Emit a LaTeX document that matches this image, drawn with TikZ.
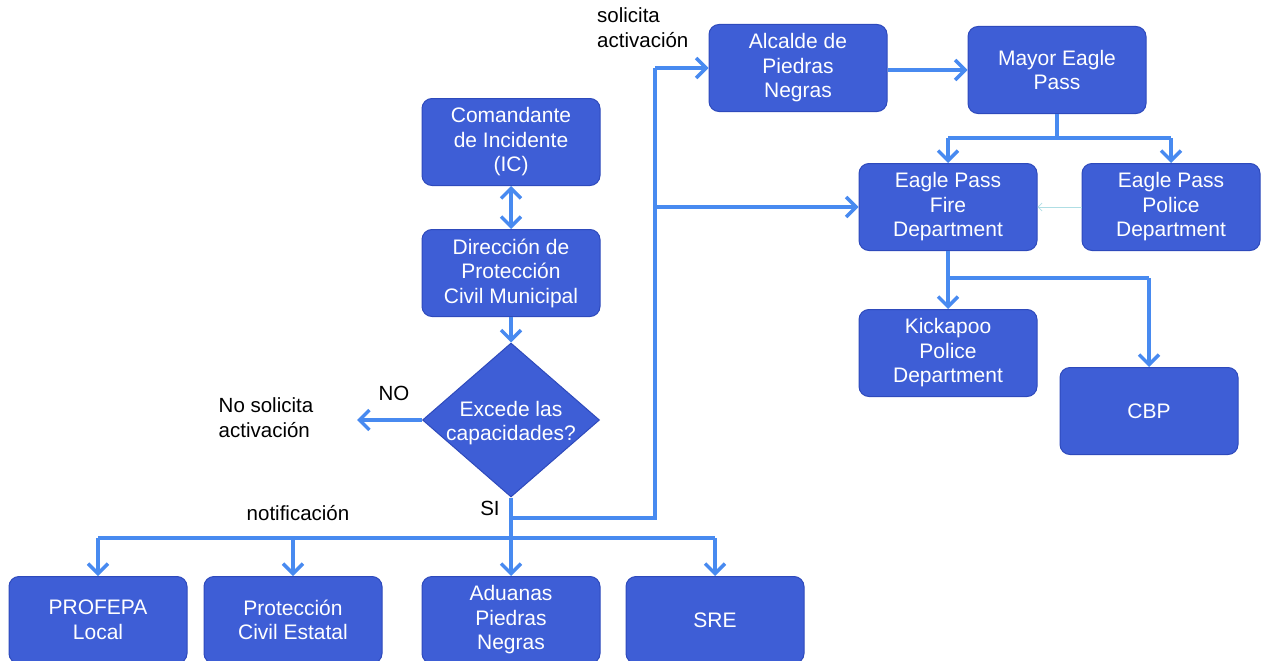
\documentclass[tikz,border=0pt]{standalone}
\usepackage{fontspec}
\setmainfont{Liberation Sans}
\usetikzlibrary{arrows.meta,shapes.geometric}
\definecolor{boxblue}{RGB}{62,94,214}
\definecolor{boxedge}{RGB}{46,74,188}
\definecolor{linkblue}{RGB}{72,138,240}
\definecolor{faintlink}{RGB}{175,222,228}

\begin{document}
\begin{tikzpicture}[x=1pt,y=-1pt,
  box/.style={draw=boxedge,fill=boxblue,line width=1pt,rounded corners=10pt,minimum width=178pt,minimum height=87pt,inner sep=2pt,text=white,align=center,font=\fontsize{21}{24.5}\selectfont},
  decision/.style={draw=boxedge,fill=boxblue,line width=1pt,diamond,minimum width=177pt,minimum height=154pt,inner sep=0pt},
  word/.style={text=white,align=center,font=\fontsize{21}{24.5}\selectfont},
  tag/.style={text=black,align=left,font=\fontsize{20.5}{25}\selectfont,inner sep=0pt},
  link/.style={draw=linkblue,line width=3.5pt},
  tip/.style={-{Straight Barb[length=10pt,width=20pt]}}]
  \useasboundingbox (0,0) rectangle (1261,661);
  \node[box] (cmd) at (511,142) {Comandante\\de Incidente\\(IC)};
  \node[box] (dir) at (511,273) {Dirección de\\Protección\\Civil Municipal};
  \node[decision] (dec) at (511,420) {};
  \node[word] (dectext) at (511,423) {Excede las\\capacidades?};
  \node[tag] (no) at (394,393) {NO};
  \node[tag] (nosol) at (266,418) {No solicita\\activación};
  \coordinate (noend) at (357,420);
  \node[tag] (si) at (490,508) {SI};
  \node[tag] (notif) at (298,513) {notificación};
  \node[tag,anchor=west] (solact) at (597,28) {solicita\\activación};
  \node[box] (profepa) at (98,620) {PROFEPA\\Local};
  \node[box] (pcestatal) at (293,620) {Protección\\Civil Estatal};
  \node[box] (aduanas) at (511,620) {Aduanas\\Piedras\\Negras};
  \node[box] (sre) at (715,620) {SRE};
  \node[box] (alcalde) at (798,68) {Alcalde de\\Piedras\\Negras};
  \node[box] (mayor) at (1057,70) {Mayor Eagle\\Pass};
  \node[box] (fire) at (948,207) {Eagle Pass\\Fire\\Department};
  \node[box] (police) at (1171,207) {Eagle Pass\\Police\\Department};
  \node[box] (kickapoo) at (948,353) {Kickapoo\\Police\\Department};
  \node[box] (cbp) at (1149,411) {CBP};
  \coordinate (bus) at (511,538);
  \coordinate (fork) at (511,518);
  \coordinate (riser) at (655,518);
  \coordinate (split) at (1057,138);
  \coordinate (branch) at (948,278);
  \draw[link,{Straight Barb[length=10pt,width=20pt]}-{Straight Barb[length=10pt,width=20pt]}] (cmd) -- (dir);
  \draw[link,tip] (dir) -- (dec);
  \draw[link,tip] (dec.west) -- (noend);
  \draw[link,tip] (dec.south) -- (aduanas.north);
  \draw[link] (profepa.north |- bus) -- (sre.north |- bus);
  \draw[link,tip] (profepa.north |- bus) -- (profepa.north);
  \draw[link,tip] (pcestatal.north |- bus) -- (pcestatal.north);
  \draw[link,tip] (sre.north |- bus) -- (sre.north);
  \draw[link] (fork) -- (riser) -- (riser |- alcalde.west);
  \draw[link,tip] (riser |- alcalde.west) -- (alcalde.west);
  \draw[link,tip] (riser |- fire.west) -- (fire.west);
  \draw[link,tip] (alcalde.east |- mayor.west) -- (mayor.west);
  \draw[link] (mayor.south) -- (split);
  \draw[link] (fire.north |- split) -- (police.north |- split);
  \draw[link,tip] (fire.north |- split) -- (fire.north);
  \draw[link,tip] (police.north |- split) -- (police.north);
  \draw[faintlink,line width=0.8pt,-{Straight Barb[length=4pt,width=8pt]}] (police.west) -- (fire.east);
  \draw[link] (fire.south) -- (branch) -- (branch -| cbp.north);
  \draw[link,tip] (branch) -- (kickapoo.north);
  \draw[link,tip] (branch -| cbp.north) -- (cbp.north);
\end{tikzpicture}
\end{document}
